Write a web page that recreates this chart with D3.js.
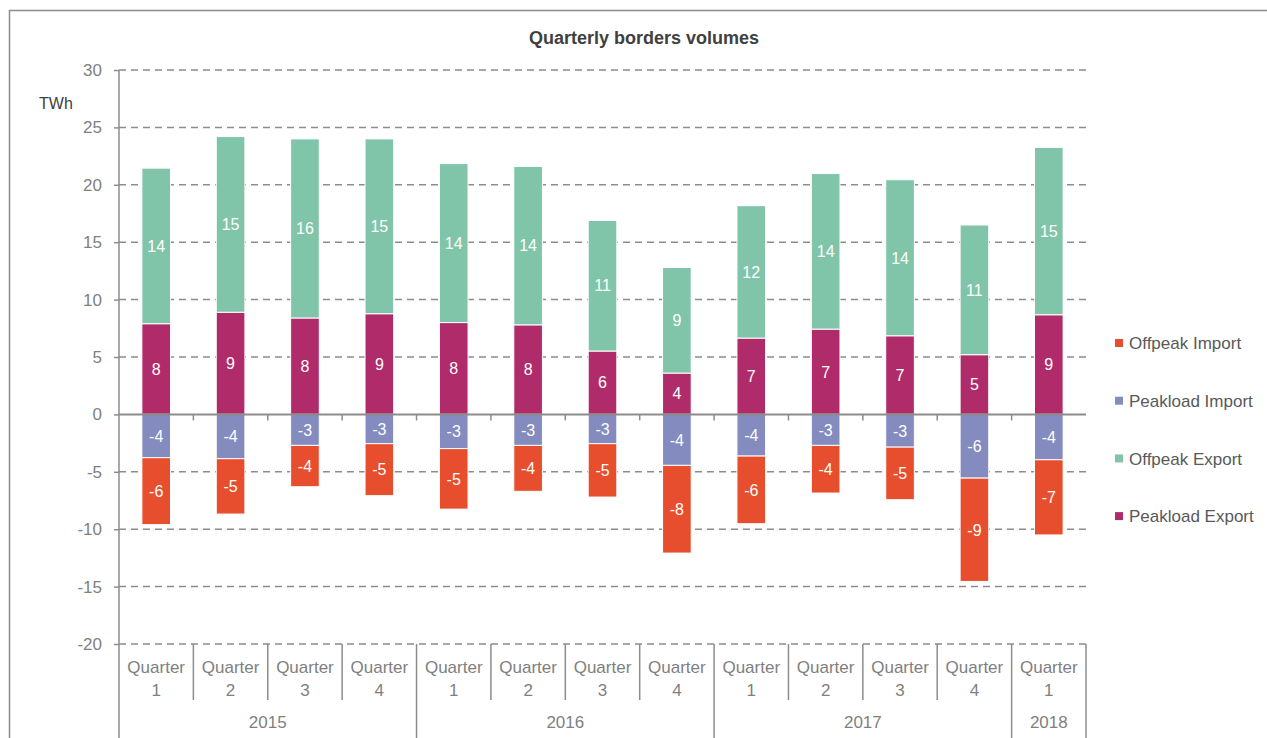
<!DOCTYPE html>
<html>
<head>
<meta charset="utf-8">
<style>
    body {
        margin: 0;
        background: white;
        font-family: 'Liberation Sans', Arial, sans-serif;
    }
    svg {
        display: block;
    }
    .tick-label {
        fill: #7f7f7f;
        font-size: 17px;
    }
    .bar-label {
        fill: white;
        font-size: 16px;
        text-anchor: middle;
    }
</style>
</head>
<body>
<svg width="1267" height="738"></svg>

<script src="https://d3js.org/d3.v7.min.js"></script>
<script>
    // chart values (TWh)
    let years = ["2015", "2015", "2015", "2015", "2016", "2016", "2016", "2016", "2017", "2017", "2017", "2017", "2018"]
    let quarters = ["1", "2", "3", "4", "1", "2", "3", "4", "1", "2", "3", "4", "1"]

    let peakloadExport = [7.9, 8.9, 8.4, 8.77, 8.0, 7.8, 5.52, 3.6, 6.65, 7.43, 6.85, 5.2, 8.68]
    let offpeakExport = [13.55, 15.3, 15.6, 15.23, 13.85, 13.8, 11.38, 9.2, 11.53, 13.55, 13.59, 11.3, 14.58]
    let peakloadImport = [-3.77, -3.86, -2.7, -2.55, -2.98, -2.7, -2.55, -4.44, -3.63, -2.7, -2.85, -5.55, -3.95]
    let offpeakImport = [-5.83, -4.82, -3.6, -4.53, -5.27, -4.0, -4.65, -7.64, -5.89, -4.15, -4.58, -9.0, -6.55]

    let yTicks = [-20, -15, -10, -5, 0, 5, 10, 15, 20, 25, 30]

    let seriesNames = ["Offpeak Import", "Peakload Import", "Offpeak Export", "Peakload Export"]
    let seriesColors = ["#e74e2d", "#838bbf", "#80c5aa", "#b02b6a"]

    let rows = years.map((y, i) => ({
        id: i,
        year: y,
        quarter: quarters[i],
        "Peakload Export": peakloadExport[i],
        "Offpeak Export": offpeakExport[i],
        "Peakload Import": peakloadImport[i],
        "Offpeak Import": offpeakImport[i]
    }))

    let color = d3.scaleOrdinal().domain(seriesNames).range(seriesColors)

    let svg = d3.select("svg")

    // outer frame (only left and top edges visible)
    svg.append("rect")
        .attr("x", 9.5).attr("y", 10.5)
        .attr("width", 1400).attr("height", 900)
        .style("fill", "none")
        .style("stroke", "#8c8c8c")
        .style("stroke-width", 1.5)

    let left = 119, right = 1086
    let x = d3.scaleBand()
        .domain(rows.map(d => d.id))
        .range([left, right])
    let barW = x.step() * 0.385

    let y = d3.scaleLinear().domain([-20, 30]).range([644, 70])

    // title
    svg.append("text")
        .attr("x", 644).attr("y", 44)
        .attr("text-anchor", "middle")
        .style("font-family", "'Liberation Sans Narrow', 'Arial Narrow', sans-serif")
        .style("font-size", "18px")
        .style("font-weight", "bold")
        .style("fill", "#404040")
        .text("Quarterly borders volumes")

    svg.append("text")
        .attr("x", 39).attr("y", 109)
        .style("font-size", "16px")
        .style("fill", "#404040")
        .text("TWh")

    // gridlines
    svg.selectAll(".grid")
        .data(yTicks.filter(t => t != 0))
        .join("line")
        .attr("x1", left).attr("x2", right)
        .attr("y1", d => y(d)).attr("y2", d => y(d))
        .style("stroke", "#8c8c8c")
        .style("stroke-width", 1.5)
        .style("stroke-dasharray", "7,5")

    // y axis (plain hyphen for negatives, like the original)
    let yAxis = svg.append("g")
        .attr("transform", `translate(${left},0)`)
        .call(d3.axisLeft(y).tickValues(yTicks).tickSize(5).tickPadding(12).tickFormat(d => String(d)))
    yAxis.select(".domain").remove()
    yAxis.selectAll("line").style("stroke", "#8c8c8c").style("stroke-width", 1.5)
    yAxis.selectAll("text").attr("class", "tick-label").style("font-family", "'Liberation Sans', Arial, sans-serif")

    svg.append("line")
        .attr("x1", left).attr("x2", left)
        .attr("y1", y(30)).attr("y2", 738)
        .style("stroke", "#8c8c8c")
        .style("stroke-width", 1.5)

    // stacked bars
    let stack = d3.stack()
        .keys(["Peakload Export", "Offpeak Export", "Peakload Import", "Offpeak Import"])
        .offset(d3.stackOffsetDiverging)
    let layers = stack(rows)

    let groups = svg.selectAll(".layer")
        .data(layers)
        .join("g")
        .attr("class", "layer")
        .style("fill", d => color(d.key))

    groups.selectAll("rect")
        .data(d => d)
        .join("rect")
        .attr("x", d => x(d.data.id) + x.bandwidth() / 2 - barW / 2)
        .attr("width", barW)
        .attr("y", d => y(Math.max(d[0], d[1])))
        .attr("height", d => Math.abs(y(d[0]) - y(d[1])))
        .style("stroke", "white")
        .style("stroke-width", 1)

    groups.selectAll("text")
        .data(d => d.map(v => ({ v: v, key: d.key })))
        .join("text")
        .attr("class", "bar-label")
        .attr("x", d => x(d.v.data.id) + x.bandwidth() / 2)
        .attr("y", d => (y(d.v[0]) + y(d.v[1])) / 2)
        .attr("dy", "0.36em")
        .text(d => Math.round(d.v.data[d.key]))

    // zero line with ticks at category boundaries
    svg.append("line")
        .attr("x1", left).attr("x2", right)
        .attr("y1", y(0)).attr("y2", y(0))
        .style("stroke", "#8c8c8c")
        .style("stroke-width", 2)

    svg.selectAll(".zero-tick")
        .data(rows.slice(1))
        .join("line")
        .attr("x1", d => x(d.id)).attr("x2", d => x(d.id))
        .attr("y1", y(0)).attr("y2", y(0) + 6)
        .style("stroke", "#8c8c8c")
        .style("stroke-width", 1.5)

    // multi-level category axis
    svg.selectAll(".sep")
        .data(rows.slice(1).concat([null]))
        .join("line")
        .attr("x1", d => d ? x(d.id) : right)
        .attr("x2", d => d ? x(d.id) : right)
        .attr("y1", y(-20))
        .attr("y2", (d, i) => {
            if (!d) return 738
            return d.year != rows[d.id - 1].year ? 738 : 700
        })
        .style("stroke", "#8c8c8c")
        .style("stroke-width", 1.5)

    let qLabels = svg.selectAll(".q")
        .data(rows)
        .join("text")
        .attr("class", "tick-label")
        .attr("text-anchor", "middle")
        .attr("x", d => x(d.id) + x.bandwidth() / 2)
        .attr("y", 673)
    qLabels.append("tspan").text("Quarter")
    qLabels.append("tspan")
        .attr("x", d => x(d.id) + x.bandwidth() / 2)
        .attr("dy", 23)
        .text(d => d.quarter)

    let yearGroups = d3.groups(rows, d => d.year)
    svg.selectAll(".year")
        .data(yearGroups)
        .join("text")
        .attr("class", "tick-label")
        .attr("text-anchor", "middle")
        .attr("x", d => (x(d[1][0].id) + x(d[1][d[1].length - 1].id) + x.bandwidth()) / 2)
        .attr("y", 728)
        .text(d => d[0])

    // legend
    let legend = svg.selectAll(".legend")
        .data(seriesNames)
        .join("g")
        .attr("transform", (d, i) => `translate(1115,${343 + i * 57.7})`)

    legend.append("rect")
        .attr("x", 0).attr("y", -4)
        .attr("width", 8).attr("height", 8)
        .style("fill", d => color(d))

    legend.append("text")
        .attr("x", 14)
        .attr("dy", "0.36em")
        .style("font-size", "17px")
        .style("fill", "#595959")
        .text(d => d)
</script>
</body>
</html>
